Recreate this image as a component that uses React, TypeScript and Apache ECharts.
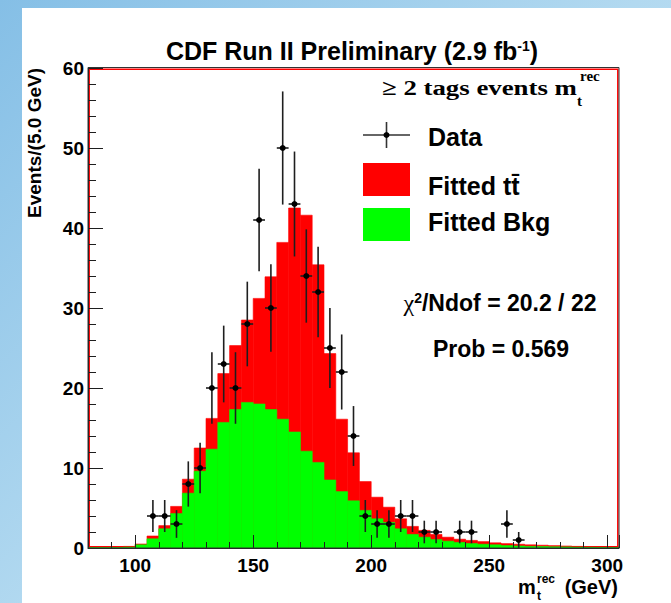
import React, { useEffect, useRef } from "react";
import * as echarts from "echarts";

// Reconstructed top-quark mass histogram, 5 GeV bins (lower bin edges, GeV)
const binLowEdges = [
  80, 85, 90, 95, 100, 105, 110, 115, 120, 125, 130, 135, 140, 145, 150,
  155, 160, 165, 170, 175, 180, 185, 190, 195, 200, 205, 210, 215, 220, 225,
  230, 235, 240, 245, 250, 255, 260, 265, 270, 275, 280, 285, 290, 295, 300,
];
const BIN_WIDTH = 5;

// Fitted ttbar + background (stacked total, drawn in red)
const fittedTotal = [
  0.1, 0.1, 0.1, 0.2, 0.5, 1.5, 2.8, 5.2, 8.6, 12.5, 16.2, 21.8, 25.3, 28.5, 31.2,
  33.9, 38.2, 42.5, 41.6, 35.4, 24.3, 16.1, 11.9, 8.3, 6.35, 5.1, 3.65, 2.7, 2.2, 1.7,
  1.35, 1.1, 0.95, 0.8, 0.65, 0.55, 0.47, 0.4, 0.35, 0.3, 0.25, 0.2, 0.18, 0.15, 0.12,
];
// Fitted background alone (drawn in green)
const fittedBkg = [
  0.05, 0.05, 0.05, 0.1, 0.4, 1.15, 2.4, 4.3, 6.85, 9.6, 12.35, 15.7, 17.3, 18.2, 18.0,
  17.3, 16.1, 14.5, 12.1, 10.7, 8.5, 7.05, 5.9, 4.7, 3.65, 3.2, 2.4, 1.7, 1.35, 1.05,
  0.85, 0.7, 0.56, 0.47, 0.4, 0.3, 0.25, 0.2, 0.18, 0.15, 0.13, 0.1, 0.08, 0.07, 0.05,
];

// Observed events (bin centre, count); empty bins are not drawn
const dataMass = [
  107.5, 112.5, 117.5, 122.5, 127.5, 132.5, 137.5, 142.5, 147.5, 152.5,
  157.5, 162.5, 167.5, 172.5, 177.5, 182.5, 187.5, 192.5, 197.5, 202.5,
  207.5, 212.5, 217.5, 222.5, 227.5, 237.5, 242.5, 257.5, 262.5,
];
const dataCounts = [
  4, 4, 3, 8, 10, 20, 23, 20, 28, 41,
  30, 50, 43, 34, 32, 25, 22, 14, 4, 3,
  3, 4, 4, 2, 2, 2, 2, 3, 1,
];

const X_MIN = 80;
const X_MAX = 305;
const Y_MIN = 0;
const Y_MAX = 60;

const SANS = '"Liberation Sans", Arial, Helvetica, sans-serif';
const SERIF = '"Liberation Serif", "Times New Roman", serif';

const GRID = { left: 88, top: 68, width: 531, height: 480 };

const RED = "#ff0000";
const GREEN = "#00ff00";
const INK = "#1e1e1e";

function histSeries(name: string, values: number[], color: string, z: number) {
  return {
    type: "custom",
    name,
    z,
    xAxisIndex: 0,
    yAxisIndex: 0,
    clip: true,
    data: binLowEdges.map((lo, i) => [lo, values[i]]),
    renderItem: (_params: any, api: any) => {
      const lo = api.value(0);
      const v = api.value(1);
      const p0 = api.coord([lo, v]);
      const p1 = api.coord([lo + BIN_WIDTH, 0]);
      return {
        type: "rect",
        shape: { x: p0[0], y: p0[1], width: p1[0] - p0[0], height: p1[1] - p0[1] },
        style: { fill: color, stroke: color, lineWidth: 0.6 },
      };
    },
  };
}

const dataSeries = {
  type: "custom",
  name: "Data",
  z: 6,
  xAxisIndex: 0,
  yAxisIndex: 0,
  data: dataMass.map((m, i) => [m, dataCounts[i]]),
  renderItem: (_params: any, api: any) => {
    const m = api.value(0);
    const n = api.value(1);
    const err = Math.sqrt(n);
    const c = api.coord([m, n]);
    const top = api.coord([m, n + err]);
    const bot = api.coord([m, Math.max(0, n - err)]);
    const left = api.coord([m - BIN_WIDTH / 2, n]);
    const right = api.coord([m + BIN_WIDTH / 2, n]);
    const line = { stroke: INK, lineWidth: 1.6 };
    return {
      type: "group",
      children: [
        { type: "line", shape: { x1: c[0], y1: top[1], x2: c[0], y2: bot[1] }, style: line },
        { type: "line", shape: { x1: left[0], y1: c[1], x2: right[0], y2: c[1] }, style: line },
        { type: "circle", shape: { cx: c[0], cy: c[1], r: 3 }, style: { fill: "#000" } },
      ],
    };
  },
};

function label(
  text: string,
  x: number,
  y: number,
  size: number,
  opts: { align?: string; family?: string; weight?: string; scaleX?: number; rotation?: number; rich?: any } = {}
) {
  const align = opts.align ?? "left";
  return {
    type: "text",
    x,
    y,
    z: 60,
    rotation: opts.rotation ?? 0,
    scaleX: opts.scaleX ?? 1,
    style: {
      text,
      fontSize: size,
      fontWeight: opts.weight ?? "bold",
      fontFamily: opts.family ?? SANS,
      fill: "#000",
      align,
      textAlign: align,
      verticalAlign: "middle",
      textVerticalAlign: "middle",
      rich: opts.rich,
    },
  };
}

const axisInk = { color: INK, width: 1 };

const option = {
  animation: false,
  grid: { ...GRID, show: false, containLabel: false },
  xAxis: [
    {
      type: "value",
      min: X_MIN,
      max: X_MAX,
      interval: 10,
      position: "bottom",
      z: 10,
      axisLine: { show: true, onZero: false, lineStyle: axisInk },
      axisTick: { show: true, inside: true, length: 6, lineStyle: axisInk },
      axisLabel: { show: false },
      splitLine: { show: false },
    },
    {
      type: "value",
      min: X_MIN,
      max: X_MAX,
      minInterval: 50,
      maxInterval: 50,
      position: "bottom",
      z: 10,
      axisLine: { show: false },
      axisTick: { show: true, inside: true, length: 13, lineStyle: axisInk },
      axisLabel: {
        show: true,
        margin: 8,
        formatter: (v: number) => (v % 50 === 0 ? String(v) : ""),
        fontSize: 19,
        fontWeight: "bold",
        fontFamily: SANS,
        color: "#000",
      },
      splitLine: { show: false },
    },
  ],
  yAxis: {
    type: "value",
    min: Y_MIN,
    max: Y_MAX,
    interval: 10,
    z: 10,
    axisLine: { show: true, onZero: false, lineStyle: axisInk },
    axisTick: { show: true, inside: true, length: 15, lineStyle: axisInk },
    minorTick: { show: true, splitNumber: 5, length: 8, lineStyle: axisInk },
    axisLabel: { margin: 4, fontSize: 19, fontWeight: "bold", fontFamily: SANS, color: "#000" },
    splitLine: { show: false },
    minorSplitLine: { show: false },
  },
  series: [
    histSeries("Fitted tt̄", fittedTotal, RED, 2),
    histSeries("Fitted Bkg", fittedBkg, GREEN, 3),
    dataSeries,
  ],
  graphic: [
    // red inner frame (under the fills) and dark outer frame
    {
      type: "rect",
      z: 1,
      shape: { x: GRID.left + 1.2, y: GRID.top + 1.2, width: GRID.width - 2.4, height: GRID.height - 2.4 },
      style: { fill: "none", stroke: RED, lineWidth: 1.5 },
      silent: true,
    },
    {
      type: "rect",
      z: 40,
      shape: { x: GRID.left, y: GRID.top - 0.5, width: GRID.width, height: GRID.height + 0.5 },
      style: { fill: "none", stroke: "#333", lineWidth: 1 },
      silent: true,
    },
    // title
    label("CDF Run II Preliminary (2.9 fb{s|-1})", 352, 51, 25, {
      align: "center",
      rich: { s: { fontSize: 14, fontWeight: "bold", fontFamily: SANS, verticalAlign: "top" } },
    }),
    // y-axis title
    label("Events/(5.0 GeV)", 34, 143, 19, { align: "center", rotation: Math.PI / 2 }),
    // x-axis title
    label("m", 518, 587, 20),
    label("rec", 537, 579, 12),
    label("t", 537, 596, 12),
    label("(GeV)", 618, 587, 20, { align: "right" }),
    // legend header
    label("≥ 2 tags events m", 382, 87, 22, { family: SERIF, scaleX: 1.22 }),
    label("rec", 580, 76, 15, { family: SERIF }),
    label("t", 577, 101, 15, { family: SERIF }),
    // legend: data marker
    { type: "line", z: 60, shape: { x1: 363, y1: 135, x2: 410, y2: 135 }, style: { stroke: "#333", lineWidth: 1.6 } },
    { type: "line", z: 60, shape: { x1: 386.5, y1: 122, x2: 386.5, y2: 148 }, style: { stroke: "#333", lineWidth: 1.6 } },
    { type: "circle", z: 61, shape: { cx: 386.5, cy: 135, r: 3 }, style: { fill: "#000" } },
    label("Data", 428, 137, 25),
    // legend: fitted signal and background swatches
    { type: "rect", z: 60, shape: { x: 363, y: 163, width: 47, height: 33 }, style: { fill: RED } },
    label("Fitted tt̄", 428, 186, 25),
    { type: "rect", z: 60, shape: { x: 363, y: 208, width: 47, height: 33 }, style: { fill: GREEN } },
    label("Fitted Bkg", 428, 222, 25),
    // fit statistics
    label("{c|χ}{s|2}/Ndof = 20.2 / 22", 500, 303, 23, {
      align: "center",
      rich: {
        c: { fontFamily: SERIF, fontSize: 24, fontWeight: "normal" },
        s: { fontFamily: SANS, fontSize: 14, fontWeight: "bold", verticalAlign: "top" },
      },
    }),
    label("Prob = 0.569", 501, 349, 23, { align: "center" }),
  ],
};

export default function App() {
  const ref = useRef<HTMLDivElement>(null);
  useEffect(() => {
    document.body.style.margin = "0";
    const chart = echarts.init(ref.current!, null, { renderer: "svg" });
    chart.setOption(option as any);
    return () => chart.dispose();
  }, []);
  return (
    <div
      style={{
        position: "relative",
        width: 671,
        height: 603,
        overflow: "hidden",
        background: "linear-gradient(135deg, #85bfe6 0%, #b2d9f0 50%, #cbe7f7 100%)",
      }}
    >
      <div style={{ position: "absolute", left: 22, top: 8, width: 649, height: 595, background: "#fff" }} />
      <div ref={ref} style={{ position: "absolute", left: 0, top: 0, width: 671, height: 603 }} />
    </div>
  );
}
